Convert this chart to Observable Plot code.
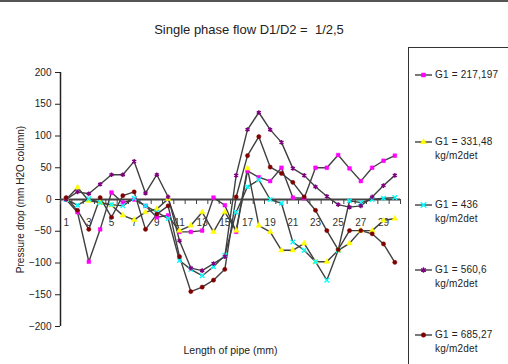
<!DOCTYPE html>
<html><head><meta charset="utf-8">
<script src="https://cdn.jsdelivr.net/npm/d3@7"></script>
<script src="https://cdn.jsdelivr.net/npm/@observablehq/plot@0.6"></script>
<style>
body{margin:0;background:#fff;font-family:"Liberation Sans",Arial,sans-serif;}
#wrap{position:relative;width:508px;height:364px;overflow:hidden;background:#fff}
#topline{position:absolute;left:0;top:0;width:508px;height:2px;background:#555}
#title{position:absolute;left:0;width:498px;top:22px;text-align:center;font-size:13px;color:#222}
#chart{position:absolute;left:0;top:0}
#legend{position:absolute;left:408px;top:47px;width:120px;height:340px;border:1px solid #333;box-sizing:border-box}
.item{position:absolute;left:6px;font-size:10px;line-height:14px;color:#222;letter-spacing:0.2px}
.item svg{position:absolute;left:0;top:1px}
.item .t{position:absolute;left:20px;top:0;white-space:nowrap}
</style>
</head><body>
<div id="wrap">
  <div id="topline"></div>
  <div id="chart"></div>
  <div id="title">Single phase flow D1/D2 =&nbsp; 1/2,5</div>
  <div id="legend"></div>
</div>
<script>
const lengths = [1,2,3,4,5,6,7,8,9,10,11,12,13,14,15,16,17,18,19,20,21,22,23,24,25,26,27,28,29,30];
const tickLabels = [1,3,5,7,9,11,13,15,17,19,21,23,25,27,29];
const yTicks = [-200,-150,-100,-50,0,50,100,150,200];

const seriesNames = ["G1 = 217,197", "G1 = 331,48", "G1 = 436", "G1 = 560,6", "G1 = 685,27"];
const seriesUnits = ["", "kg/m2det", "kg/m2det", "kg/m2det", "kg/m2det"];
const seriesColors = ["#ff00ff", "#ffff00", "#00ffff", "#800080", "#800000"];
const seriesSymbols = ["square", "triangle", "times", "asterisk", "circle"];

const g217 = [0,-20,-98,-47,11,-5,0,-10,-28,-25,-51,-51,-49,3,-9,-51,45,35,29,50,3,2,50,50,70,49,29,50,61,69];
const g331 = [0,19,-2,-5,-9,-25,-32,-20,-15,1,-49,-41,-20,-51,-20,-49,49,-41,-51,-80,-80,-69,-98,-98,-80,-69,-49,-49,-33,-30];
const g436 = [0,-9,1,-5,-8,-10,2,-10,-20,-30,-96,-110,-120,-106,-88,-20,20,31,0,-6,-67,-80,-98,-127,-80,-2,-5,0,2,3];
const g560 = [0,12,9,24,39,39,60,10,39,4,-65,-108,-112,-101,-90,38,110,137,110,90,49,38,20,5,-8,-12,-10,4,22,38];
const g685 = [3,-17,-47,3,-28,6,12,-47,-23,-10,-90,-145,-138,-127,-110,4,69,99,51,41,27,4,-17,-49,-79,-49,-49,-54,-70,-99];
const seriesValues = [g217, g331, g436, g560, g685];

const rows = [];
seriesValues.forEach((vals, s) => vals.forEach((v, i) => rows.push({series: seriesNames[s], x: lengths[i], y: v})));

const tickPositions = [0, ...lengths].map(d => d + 0.5);

const strokeSymbols = new Set(["times", "asterisk", "plus"]);
const dotMarks = seriesNames.map((name, s) => {
  const sym = seriesSymbols[s];
  const stroked = strokeSymbols.has(sym);
  return Plot.dot(rows.filter(r => r.series === name), {
    x: "x", y: "y", symbol: sym, r: stroked ? 2.2 : 2.1,
    fill: stroked ? "none" : seriesColors[s],
    stroke: seriesColors[s], strokeWidth: stroked ? 1.4 : 0.5
  });
});

const chart = Plot.plot({
  width: 508, height: 364,
  marginLeft: 60, marginRight: 108, marginTop: 72, marginBottom: 38,
  style: {fontFamily: "Liberation Sans, Arial, sans-serif", color: "#222", background: "transparent"},
  x: {domain: [0.5, 30.5], axis: null},
  y: {domain: [-200, 200], axis: null},
  marks: [
    Plot.axisY(yTicks, {anchor: "left", tickSize: 5, tickPadding: 4, fontSize: 10, stroke: "#222",
      label: "Pressure drop (mm H2O column)", labelAnchor: "center", labelOffset: 44, labelArrow: "none"}),
    Plot.ruleX([0.5], {stroke: "#222", strokeWidth: 1.5}),
    Plot.ruleY([0], {stroke: "#444", strokeWidth: 2}),
    Plot.ruleX(tickPositions, {x: d => d, y1: () => 0, y2: () => 0, insetBottom: -5, stroke: "#444"}),
    Plot.text(tickLabels, {x: d => d, y: () => 0, dy: 23, fontSize: 10, fill: "#333"}),
    Plot.line(rows, {x: "x", y: "y", z: "series", stroke: "#404040", strokeWidth: 1.4}),
    ...dotMarks,
    Plot.text(["Length of pipe (mm)"], {frameAnchor: "bottom", dy: 27, fontSize: 10.5, fill: "#222"})
  ]
});
document.getElementById("chart").appendChild(chart);

// legend
const legendTops = [20, 87, 150, 215, 280];
const legend = document.getElementById("legend");
seriesNames.forEach((name, s) => {
  const div = document.createElement("div");
  div.className = "item";
  div.style.top = legendTops[s] + "px";
  const svg = d3.create("svg").attr("width", 20).attr("height", 12);
  svg.append("line").attr("x1", 0).attr("x2", 17).attr("y1", 6).attr("y2", 6).attr("stroke", "#404040").attr("stroke-width", 1.4);
  const sym = seriesSymbols[s];
  const stroked = strokeSymbols.has(sym);
  const symObj = {square: d3.symbolSquare, triangle: d3.symbolTriangle, times: d3.symbolTimes, asterisk: d3.symbolAsterisk, circle: d3.symbolCircle}[sym];
  svg.append("path").attr("transform", "translate(8.5,6)")
    .attr("d", d3.symbol(symObj, stroked ? 22 : 16)())
    .attr("fill", stroked ? "none" : seriesColors[s])
    .attr("stroke", seriesColors[s]).attr("stroke-width", stroked ? 1.4 : 0.5);
  div.appendChild(svg.node());
  const t = document.createElement("div");
  t.className = "t";
  t.innerHTML = name + (seriesUnits[s] ? "<br>" + seriesUnits[s] : "");
  div.appendChild(t);
  legend.appendChild(div);
});
</script>
</body></html>
